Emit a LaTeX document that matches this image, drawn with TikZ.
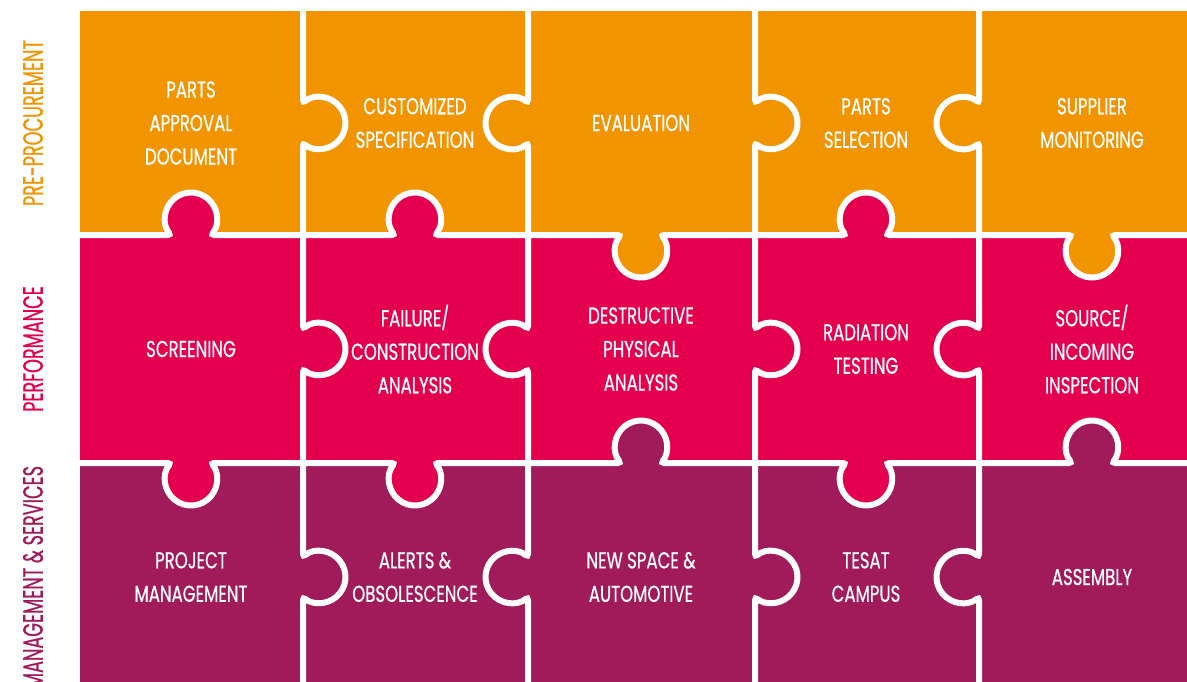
\documentclass[tikz,border=0pt]{standalone}
\usepackage{fontspec}
\usepackage{tikz}
\usetikzlibrary{positioning}
\newfontfamily\piecefont[FakeStretch=0.72, FakeBold=0.6]{Poppins}
\newfontfamily\rowfont[FakeStretch=0.63, FakeBold=0.7]{Poppins}
\definecolor{proorange}{HTML}{F29400}
\definecolor{perfpink}{HTML}{E4004F}
\definecolor{mgmtpurple}{HTML}{A11A5A}
\tikzset{
  seam/.style={draw=white, line width=6pt, rounded corners=3pt},
  piece/.style={text=white, align=center, font=\piecefont\fontsize{23}{33.5}\selectfont},
  rowlabel/.style={rotate=90, font=\rowfont\fontsize{28}{30}\selectfont},
  pics/joint/.style={code={
    \fill[#1] (0,-16.5) circle [radius=26];
    \draw[seam] (-114,0) -- (-20.1,0) arc [start angle=140.6, end angle=399.4, radius=26] -- (114,0);
  }}
}
\begin{document}
\begin{tikzpicture}[x=1pt, y=-1pt]
\useasboundingbox (0,0) rectangle (1187,681);
\clip (0,0) rectangle (1187,681);
\fill[proorange] (80,11) rectangle (1210,235);
\fill[perfpink] (80,235) rectangle (1210,463);
\fill[mgmtpurple] (80,463) rectangle (1210,700);
\foreach \y/\c in {123/proorange, 349/perfpink, 577/mgmtpurple} {
  \pic[rotate=-90] at (303,\y) {joint=\c};
  \pic[rotate=90] at (528,\y) {joint=\c};
  \pic[rotate=-90] at (755,\y) {joint=\c};
  \pic[rotate=90] at (979,\y) {joint=\c};
}
\foreach \x/\s/\c in {191/1/perfpink, 415/1/perfpink, 641/-1/proorange, 866/1/perfpink, 1092/-1/proorange}
  \pic[yscale=\s] at (\x,235) {joint=\c};
\foreach \x/\s/\c in {191/-1/perfpink, 415/-1/perfpink, 641/1/mgmtpurple, 866/-1/perfpink, 1092/1/mgmtpurple}
  \pic[yscale=\s] at (\x,463) {joint=\c};

\node[piece] (pad) at (191,123) {PARTS\\APPROVAL\\DOCUMENT};
\node[piece] (cspec) at (415,123) {CUSTOMIZED\\SPECIFICATION};
\node[piece] (eval) at (641,123) {EVALUATION};
\node[piece] (psel) at (866,123) {PARTS\\SELECTION};
\node[piece] (supmon) at (1092,123) {SUPPLIER\\MONITORING};

\node[piece] (screen) at (191,349) {SCREENING};
\node[piece] (fca) at (415,349) {FAILURE/\\CONSTRUCTION\\ANALYSIS};
\node[piece] (dpa) at (641,349) {DESTRUCTIVE\\PHYSICAL\\ANALYSIS};
\node[piece] (radtest) at (866,349) {RADIATION\\TESTING};
\node[piece] (srcinc) at (1092,349) {SOURCE/\\INCOMING\\INSPECTION};

\node[piece] (projmgmt) at (191,577) {PROJECT\\MANAGEMENT};
\node[piece] (alerts) at (415,577) {ALERTS \&\\OBSOLESCENCE};
\node[piece] (newspace) at (641,577) {NEW SPACE \&\\AUTOMOTIVE};
\node[piece] (campus) at (866,577) {TESAT\\CAMPUS};
\node[piece] (assembly) at (1092,577) {ASSEMBLY};

\node[rowlabel, text=proorange] (prelbl) at (33,123) {PRE-PROCUREMENT};
\node[rowlabel, text=perfpink] (perflbl) at (33,349) {PERFORMANCE};
\node[rowlabel, text=mgmtpurple] (mgmtlbl) at (33,577) {MANAGEMENT \& SERVICES};
\end{tikzpicture}
\end{document}
